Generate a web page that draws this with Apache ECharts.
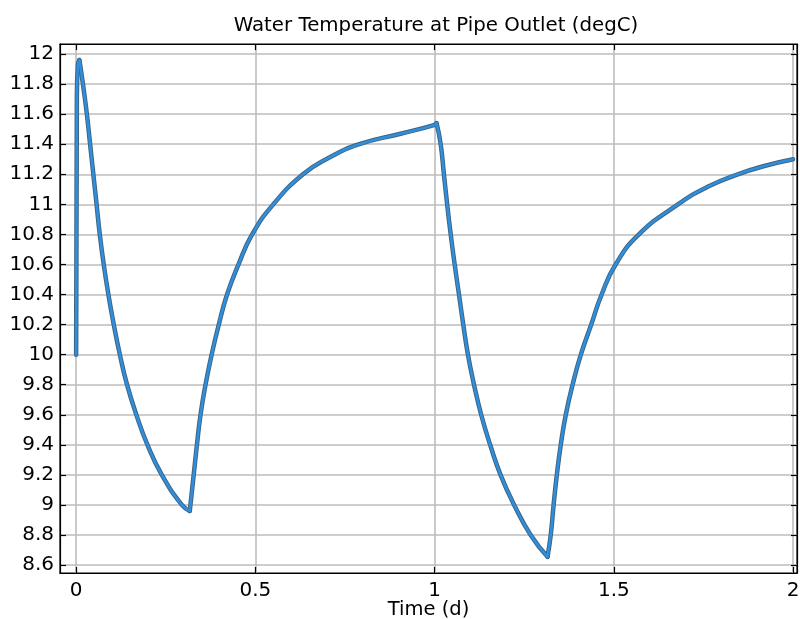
<!DOCTYPE html>
<html>
<head>
<meta charset="utf-8">
<script src="https://cdn.jsdelivr.net/npm/echarts@6/dist/echarts.min.js"></script>
<style>
  html, body { margin: 0; padding: 0; background: #fff; }
  #chart { width: 800px; height: 619px; }
</style>
</head>
<body>
<div id="chart"></div>
<script>
// time in days, outlet temperature in degC
const timeDays = [
  0, 0.002, 0.005, 0.009, 0.013, 0.019, 0.030, 0.039, 0.048, 0.057, 0.066, 0.077, 0.090,
  0.105, 0.122, 0.142, 0.168, 0.199, 0.239, 0.295, 0.317,
  0.328, 0.337, 0.347, 0.361, 0.378, 0.398, 0.421, 0.453, 0.491, 0.550, 0.633, 0.705,
  0.790, 0.905, 0.998, 1.0056,
  1.017, 1.026, 1.035, 1.045, 1.056, 1.068, 1.080, 1.093, 1.110, 1.130, 1.155, 1.184,
  1.222, 1.268, 1.315,
  1.324, 1.332, 1.341, 1.352, 1.366, 1.385, 1.408, 1.437, 1.466, 1.505, 1.570, 1.679,
  1.762, 1.846, 1.920, 2.0
]
const tempC = [
  10.0, 11.7, 11.93, 11.96, 11.9, 11.8, 11.6, 11.4, 11.2, 11.0, 10.8, 10.6, 10.4,
  10.2, 10.0, 9.8, 9.6, 9.4, 9.2, 9.0, 8.96,
  9.2, 9.4, 9.6, 9.8, 10.0, 10.2, 10.4, 10.6, 10.8, 11.0, 11.2, 11.31,
  11.4, 11.47, 11.527, 11.54,
  11.4, 11.2, 11.0, 10.8, 10.6, 10.4, 10.2, 10.0, 9.8, 9.6, 9.4, 9.2,
  9.0, 8.8, 8.655,
  8.8, 9.0, 9.2, 9.4, 9.6, 9.8, 10.0, 10.2, 10.4, 10.6, 10.8, 11.0,
  11.117, 11.2, 11.255, 11.30
]
// indices where the curve turns (peaks and troughs)
const turnIdx = [0, 3, 20, 36, 51, timeDays.length - 1]
const xTicks = [0, 0.5, 1, 1.5, 2]
const yTicks = [8.6, 8.8, 9, 9.2, 9.4, 9.6, 9.8, 10, 10.2, 10.4, 10.6, 10.8, 11, 11.2, 11.4, 11.6, 11.8, 12]

const points = timeDays.map((t, i) => [t, tempC[i]])
const font = 'DejaVu Sans'
const fmt = v => String(+Number(v).toFixed(1))

// split at turning points so smoothing keeps the sharp corners
const pieces = []
for (let k = 0; k < turnIdx.length - 1; k++) {
  pieces.push(points.slice(turnIdx[k], turnIdx[k + 1] + 1))
}

const chart = echarts.init(document.getElementById('chart'))

const xBase = {
  type: 'value', min: -0.045, max: 2.011,
  axisLine: { onZero: false, lineStyle: { color: '#000', width: 1.2 } },
  axisTick: { inside: true, length: 6, customValues: xTicks, lineStyle: { color: '#000', width: 1.2 } }
}
const yBase = {
  type: 'value', min: 8.547, max: 12.067,
  axisLine: { onZero: false, lineStyle: { color: '#000', width: 1.2 } },
  axisTick: { inside: true, length: 6, customValues: yTicks, lineStyle: { color: '#000', width: 1.2 } }
}

const outline = pieces.map(d => ({
  type: 'line', data: d, showSymbol: false, silent: true, smooth: 0.5,
  lineStyle: { color: '#3d6482', width: 4.5, cap: 'round', join: 'round' }
}))
const core = pieces.map(d => ({
  name: 'Temperature', type: 'line', data: d, showSymbol: false, smooth: 0.5,
  lineStyle: { color: '#2f8fdc', width: 2.6, cap: 'round', join: 'round' }
}))

chart.setOption({
  animation: false,
  title: {
    text: 'Water Temperature at Pipe Outlet (degC)',
    left: 431, top: 11, textAlign: 'center',
    textStyle: { fontFamily: font, fontSize: 19.8, fontWeight: 'normal', color: '#000' }
  },
  grid: {
    left: 60, right: 3, top: 44, bottom: 46, outerBoundsMode: 'none',
    show: true, borderColor: '#000', borderWidth: 1.2
  },
  xAxis: [
    {
      ...xBase, position: 'bottom',
      name: 'Time (d)', nameLocation: 'middle', nameGap: 27, nameMoveOverlap: false,
      nameTextStyle: { fontFamily: font, fontSize: 19.5, color: '#000' },
      axisLabel: { customValues: xTicks, formatter: fmt, margin: 8, fontFamily: font, fontSize: 20, color: '#000' },
      splitLine: { show: true, lineStyle: { color: '#bdbdbd', width: 1.6 } }
    },
    { ...xBase, position: 'top', axisLabel: { show: false }, splitLine: { show: false } }
  ],
  yAxis: [
    {
      ...yBase, position: 'left',
      axisLabel: { customValues: yTicks, formatter: fmt, margin: 6, fontFamily: font, fontSize: 20, color: '#000' },
      splitLine: { show: true, lineStyle: { color: '#bdbdbd', width: 1.6 } }
    },
    { ...yBase, position: 'right', axisLabel: { show: false }, splitLine: { show: false } }
  ],
  series: [...outline, ...core]
})
</script>
</body>
</html>
